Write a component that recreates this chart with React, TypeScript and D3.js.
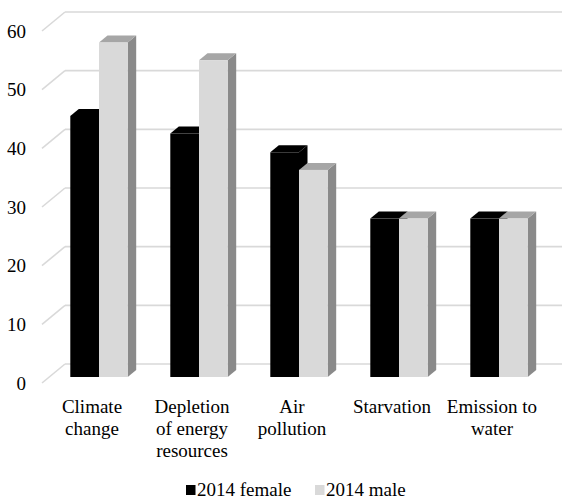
import React from "react";
import * as d3 from "d3";

const categories: string[][] = [
  ["Climate", "change"],
  ["Depletion", "of energy", "resources"],
  ["Air", "pollution"],
  ["Starvation"],
  ["Emission to", "water"],
];
const seriesNames = ["2014 female", "2014 male"];
const female = [44.5, 41.5, 38.3, 27, 27];
const male = [57, 54, 35.3, 27, 27];
const yTicks = [0, 10, 20, 30, 40, 50, 60];

const W = 562;
const H = 501;
const FONT = "Liberation Serif, Times New Roman, serif";
const FS = 19;

// depth of the back wall relative to the front plane
const WALL_DX = 23;
const WALL_DY = 19;
// depth of each bar
const BAR_DX = 8.5;
const BAR_DY = -7;

const seriesStyle = [
  { front: "#000000", top: "#000000", side: "#000000" },
  { front: "#d9d9d9", top: "#a6a6a6", side: "#8a8a8a" },
];

export default function App() {
  const keys = categories.map((c) => c.join(" "));
  const yFront = d3.scaleLinear().domain([0, 60]).range([377, 25]);
  const yBack = d3.scaleLinear().domain([0, 60]).range([364, 12]);
  const wallLeft = 65;

  const x0 = d3.scaleBand<string>().domain(keys).range([49, 549]);
  const groupW = 57.4;
  const x1 = d3
    .scaleBand<string>()
    .domain(seriesNames)
    .range([(x0.bandwidth() - groupW) / 2, (x0.bandwidth() + groupW) / 2]);

  const data = [female, male];

  return (
    <svg
      width={W}
      height={H}
      viewBox={`0 0 ${W} ${H}`}
      style={{ position: "absolute", left: 0, top: 0, background: "#fff", fontFamily: FONT }}
    >
      {/* back wall gridlines and side wall diagonals */}
      <g stroke="#d9d9d9" strokeWidth={1.6} fill="none">
        {yTicks.map((t) => (
          <g key={t}>
            <line x1={wallLeft} x2={W} y1={yBack(t)} y2={yBack(t)} />
            <line
              x1={wallLeft}
              y1={yBack(t)}
              x2={wallLeft - WALL_DX}
              y2={yBack(t) + WALL_DY}
            />
          </g>
        ))}
      </g>
      {/* y tick labels */}
      <g fontSize={FS} fill="#000" textAnchor="end">
        {yTicks.map((t) => (
          <text key={t} x={26} y={yBack(t) + WALL_DY} dy="0.35em">
            {t}
          </text>
        ))}
      </g>
      {/* 3D bars */}
      {keys.map((k, i) => (
        <g key={k}>
          {seriesNames.map((s, si) => {
            const v = data[si][i];
            const x = (x0(k) ?? 0) + (x1(s) ?? 0);
            const w = x1.bandwidth();
            const yt = yFront(v);
            const yb = yFront(0);
            const st = seriesStyle[si];
            const top = `M${x},${yt}L${x + w},${yt}L${x + w + BAR_DX},${yt + BAR_DY}L${x + BAR_DX},${yt + BAR_DY}Z`;
            const side = `M${x + w},${yt}L${x + w + BAR_DX},${yt + BAR_DY}L${x + w + BAR_DX},${yb + BAR_DY}L${x + w},${yb}Z`;
            return (
              <g key={s}>
                <path d={side} fill={st.side} />
                <path d={top} fill={st.top} />
                <rect x={x} y={yt} width={w} height={yb - yt} fill={st.front} />
              </g>
            );
          })}
        </g>
      ))}
      {/* category labels */}
      <g fontSize={FS} fill="#000" textAnchor="middle">
        {categories.map((lines, i) => {
          const cx = (x0(keys[i]) ?? 0) + x0.bandwidth() / 2 - 7;
          return (
            <text key={keys[i]} x={cx} y={413}>
              {lines.map((ln, li) => (
                <tspan key={li} x={cx} dy={li === 0 ? 0 : 22}>
                  {ln}
                </tspan>
              ))}
            </text>
          );
        })}
      </g>
      {/* legend */}
      <g fontSize={FS} fill="#000">
        <rect x={186} y={485} width={9.5} height={10} fill="#000" />
        <text x={197} y={496}>
          {seriesNames[0]}
        </text>
        <rect x={315} y={485} width={9.5} height={10} fill="#d9d9d9" />
        <text x={326} y={496}>
          {seriesNames[1]}
        </text>
      </g>
    </svg>
  );
}
